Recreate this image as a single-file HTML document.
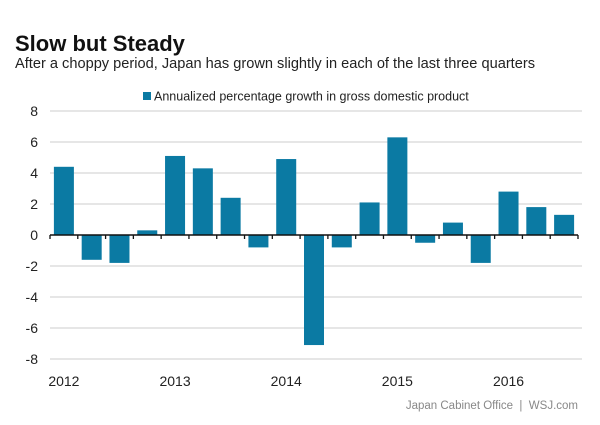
<!DOCTYPE html>
<html><head><meta charset="utf-8"><style>
body{margin:0;background:#fff;}
svg text{font-family:"Liberation Sans",Arial,sans-serif;}
</style></head><body>
<svg width="600" height="420" viewBox="0 0 600 420">
<text x="15" y="51" font-size="22" font-weight="bold" fill="#111">Slow but Steady</text>
<text x="15" y="68" font-size="14.6" fill="#222">After a choppy period, Japan has grown slightly in each of the last three quarters</text>
<g>
<rect x="143" y="92" width="8" height="8" fill="#0b7aa3"/>
<text x="154" y="100.5" font-size="12.5" fill="#222">Annualized percentage growth in gross domestic product</text>
</g>
<g id="grid"></g><g id="bars"></g><g id="axis"></g>
<text x="578" y="409" font-size="11.5" fill="#888" text-anchor="end" xml:space="preserve" style="white-space:pre">Japan Cabinet Office  |  WSJ.com</text>
</svg>
<script>
const yTicks=[8,6,4,2,0,-2,-4,-6,-8];
const values=[4.4,-1.6,-1.8,0.3,5.1,4.3,2.4,-0.8,4.9,-7.1,-0.8,2.1,6.3,-0.5,0.8,-1.8,2.8,1.8,1.3];
const yearLabels=["2012","2013","2014","2015","2016"];
const yearIndex=[0,4,8,12,16];
const NS="http://www.w3.org/2000/svg";
const x0=50,x1=578,cw=(x1-x0)/values.length;
function y(v){return 235-v*15.5;}
function xc(i){return x0+(i+0.5)*cw;}
function mk(t,a,p){const e=document.createElementNS(NS,t);for(const k in a)e.setAttribute(k,a[k]);p.appendChild(e);return e;}
const g=document.getElementById('grid'),b=document.getElementById('bars'),ax=document.getElementById('axis');
yTicks.forEach(t=>{
 if(t!==0){const l=mk('line',{x1:x0,x2:582,y1:y(t),y2:y(t),stroke:'#d8d8d8','stroke-width':1.3},g);
 
 }
 const tx=mk('text',{x:38,y:y(t)+5,'font-size':14,'text-anchor':'end',fill:'#222'},g);
 tx.textContent=t;
 
 
});
values.forEach((v,i)=>{
 const r=mk('rect',{x:xc(i)-10,width:20,y:Math.min(y(v),y(0)),height:Math.abs(y(v)-y(0)),fill:'#0b7aa3'},b);
 
 
});
const base=mk('line',{x1:x0,x2:x1,y1:y(0),y2:y(0),stroke:'#111','stroke-width':1.5},ax);


for(let i=0;i<=values.length;i++){
 const t=mk('line',{x1:x0+i*cw,x2:x0+i*cw,y1:y(0),y2:y(0)+4,stroke:'#111','stroke-width':1.3},ax);
 
 
}
yearLabels.forEach((lab,k)=>{
 const t=mk('text',{x:xc(yearIndex[k]),y:386,'font-size':14,'text-anchor':'middle',fill:'#222'},ax);
 t.textContent=lab;
 
 
});
</script>
</body></html>
